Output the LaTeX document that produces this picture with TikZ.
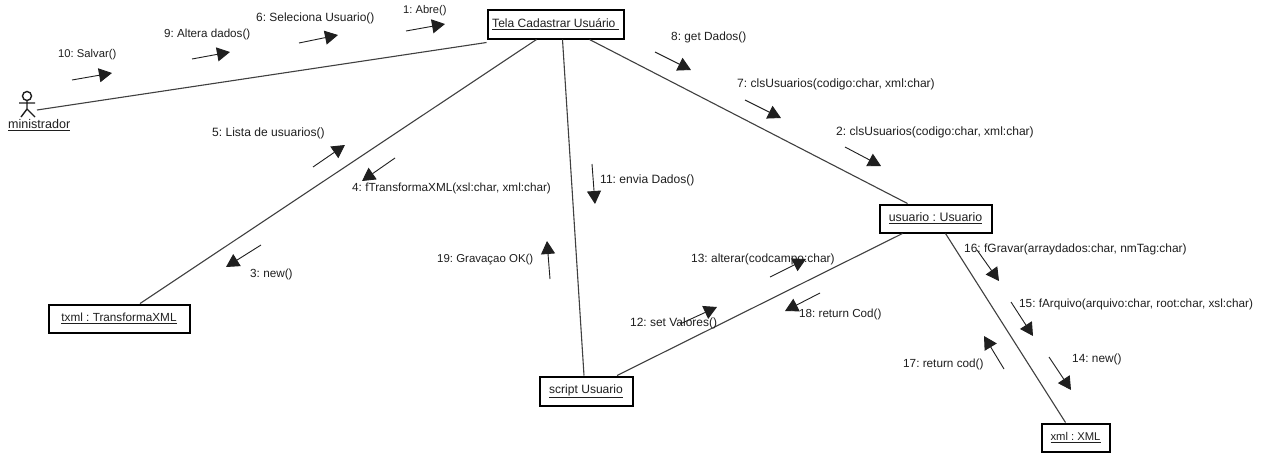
\documentclass[tikz,border=0pt]{standalone}
\usepackage{fontspec}
\setmainfont{Liberation Sans}
\usetikzlibrary{arrows.meta}
\definecolor{ink}{gray}{0.12}
\newcommand{\fs}[1]{\fontsize{\fpeval{#1+0.15}}{14}\selectfont\frenchspacing}
\tikzset{
  objbox/.style={draw=black,line width=2pt,fill=white,inner sep=0pt,text=ink},
  assoc/.style={draw=ink!85!white,line width=1.1pt},
  msg/.style={draw=ink,line width=0.9pt,-{Triangle[length=13pt,width=14pt]}},
  lbl/.style={anchor=west,inner sep=0pt,text=ink}
}
\begin{document}
\begin{tikzpicture}[x=1pt,y=-1pt]
\useasboundingbox (0,0) rectangle (1264,453);
\fill[white] (0,0) rectangle (1264,453);
% object boxes
\node[objbox,minimum width=136pt,minimum height=29pt] (tela) at (555.5,24) {\fs{11.9}\underline{Tela Cadastrar Usuário\ }};
\node[objbox,minimum width=112pt,minimum height=28pt] (usuario) at (935.5,218.5) {\fs{12.2}\underline{usuario : Usuario}};
\node[objbox,minimum width=68pt,minimum height=28pt] (xml) at (1075.5,437.5) {\fs{11.1}\underline{xml : XML}};
\node[objbox,minimum width=93pt,minimum height=29pt] (script) at (586,391) {\fs{11.9}\underline{script Usuario}};
\node[objbox,minimum width=141pt,minimum height=28pt] (txml) at (119,318.5) {\fs{11.6}\underline{txml : TransformaXML}};
% actor
\coordinate (actor) at (37,110);
\draw[ink,line width=1.4pt] (27,96) circle (4.5pt);
\draw[ink,line width=1.4pt] (27,100.5) -- (27,109) (19,103) -- (35,103) (21,117) -- (27,109) -- (35,117);
\node[lbl] (actorlabel) at (8,125.5) {\fs{12.4}\underline{ministrador}};
% associations
\draw[assoc] (actor) -- ([yshift=-3pt]tela.south west);
\draw[assoc] ([xshift=50pt]tela.south west) -- ([xshift=21pt]txml.north);
\draw[assoc] ([xshift=76pt]tela.south west) -- ([xshift=-2pt]script.north);
\draw[assoc] ([xshift=103pt]tela.south west) -- ([xshift=-28pt]usuario.north);
\draw[assoc] ([xshift=31pt]script.north) -- ([xshift=-33pt]usuario.south);
\draw[assoc] ([xshift=10pt]usuario.south) -- ([xshift=-10pt]xml.north);
% messages
\foreach \n/\ax/\ay/\bx/\by in {
 a/72/80/112/73, b/192/59/230/52, c/299/43/338/35, d/406/31/445/24,
 e/313/167/345/145, f/395/158/362/181, g/261/245/226/267,
 h/655/52/691/70, i/745/100/781/118, j/845/147/881/166,
 k/592/164/595/204, l/550/279/547/241, m/770/277/806/259,
 n/680/324/717/307, o/820/293/785/311,
 p/977/250/999/281, q/1011/302/1033/336, r/1049/357/1071/390, s/1004/369/984/336}{
  \coordinate (\n0) at (\ax,\ay);
  \coordinate (\n1) at (\bx,\by);
  \draw[msg] (\n0) -- (\n1);
}
% labels
\foreach \n/\x/\y/\s/\t in {
 la/58/55/11.1/{10: Salvar()}, lb/164/34/11.5/{9: Altera dados()}, lc/256/18/11.8/{6: Seleciona Usuario()}, ld/403/11/11/{1: Abre()},
 le/212/133/11.9/{5: Lista de usuarios()}, lf/352/188/11.6/{4: fTransformaXML(xsl:char, xml:char)}, lg/250/274/11.6/{3: new()},
 lh/671/37/11.7/{8: get Dados()}, li/737/84/11.9/{7: clsUsuarios(codigo:char, xml:char)}, lj/836/132/11.9/{2: clsUsuarios(codigo:char, xml:char)},
 lk/600/180/11.9/{11: envia Dados()}, ll/437/260/11.3/{19: Gravaçao OK()}, lm/691/259/11.8/{13: alterar(codcampo:char)},
 ln/630/323/11.8/{12: set Valores()}, lo/799/314/11.5/{18: return Cod()},
 lp/964/249/11.8/{16: fGravar(arraydados:char, nmTag:char)}, lq/1019/304/11.6/{15: fArquivo(arquivo:char, root:char, xsl:char)},
 lr/1072/359/11.7/{14: new()}, ls/903/364/11.6/{17: return cod()}}{
  \node[lbl] (\n) at (\x,\y) {\fs{\s}\t};
}
\end{tikzpicture}
\end{document}
